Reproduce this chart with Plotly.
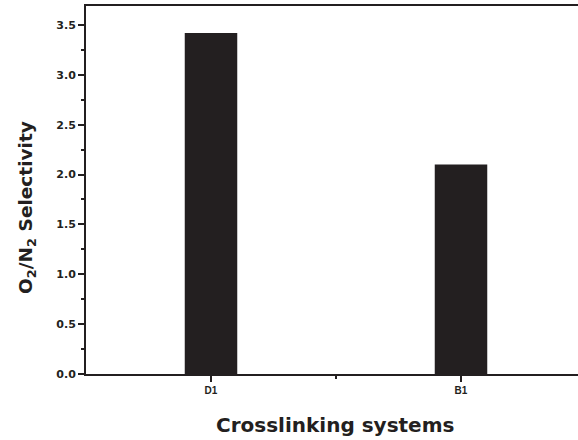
import plotly.graph_objects as go

categories = ["D1", "B1"]
positions = [0, 1]
selectivity = [3.42, 2.10]
y_ticks = [0.0, 0.5, 1.0, 1.5, 2.0, 2.5, 3.0, 3.5]
y_tick_labels = ["0.0", "0.5", "1.0", "1.5", "2.0", "2.5", "3.0", "3.5"]
x_title = "Crosslinking systems"
y_title = "O<sub>2</sub>/N<sub>2</sub> Selectivity"

ink = "#231f20"
fig = go.Figure()
fig.add_trace(go.Bar(x=positions, y=selectivity, width=0.21,
                     marker=dict(color=ink, line=dict(width=0))))

bold = "DejaVu Sans"
fig.update_layout(
    width=578, height=440,
    margin=dict(l=86, r=0, t=6, b=66),
    paper_bgcolor="white", plot_bgcolor="white",
    showlegend=False,
    xaxis=dict(range=[-0.5, 1.468], tickvals=positions, ticktext=categories,
               showline=True, linecolor=ink, linewidth=2, mirror=True,
               ticks="outside", ticklen=6, tickwidth=2, tickcolor=ink,
               minor=dict(tickvals=[0.5], ticks="outside", ticklen=3, tickwidth=2, tickcolor=ink),
               showgrid=False, zeroline=False,
               tickfont=dict(family="Liberation Sans, Arial", size=10, color=ink, weight="bold")),
    yaxis=dict(range=[0, 3.69], tickvals=y_ticks, ticktext=y_tick_labels,
               showline=True, linecolor=ink, linewidth=2, mirror=False,
               ticks="outside", ticklen=6, tickwidth=2, tickcolor=ink,
               minor=dict(dtick=0.25, ticks="outside", ticklen=3, tickwidth=1.5, tickcolor=ink, showgrid=False),
               showgrid=False, zeroline=False,
               tickfont=dict(family=bold, size=11, color=ink, weight="bold")),
    annotations=[
        dict(text=x_title, xref="paper", yref="paper", x=0.506, y=-0.1386,
             xanchor="center", yanchor="middle", showarrow=False,
             font=dict(family=bold, size=20, color=ink, weight="bold")),
        dict(text=y_title, xref="paper", yref="paper", x=-0.12, y=0.454,
             xanchor="center", yanchor="middle", showarrow=False, textangle=-90,
             font=dict(family=bold, size=18.5, color=ink, weight="bold")),
    ],
)
fig.write_html("out.html")
